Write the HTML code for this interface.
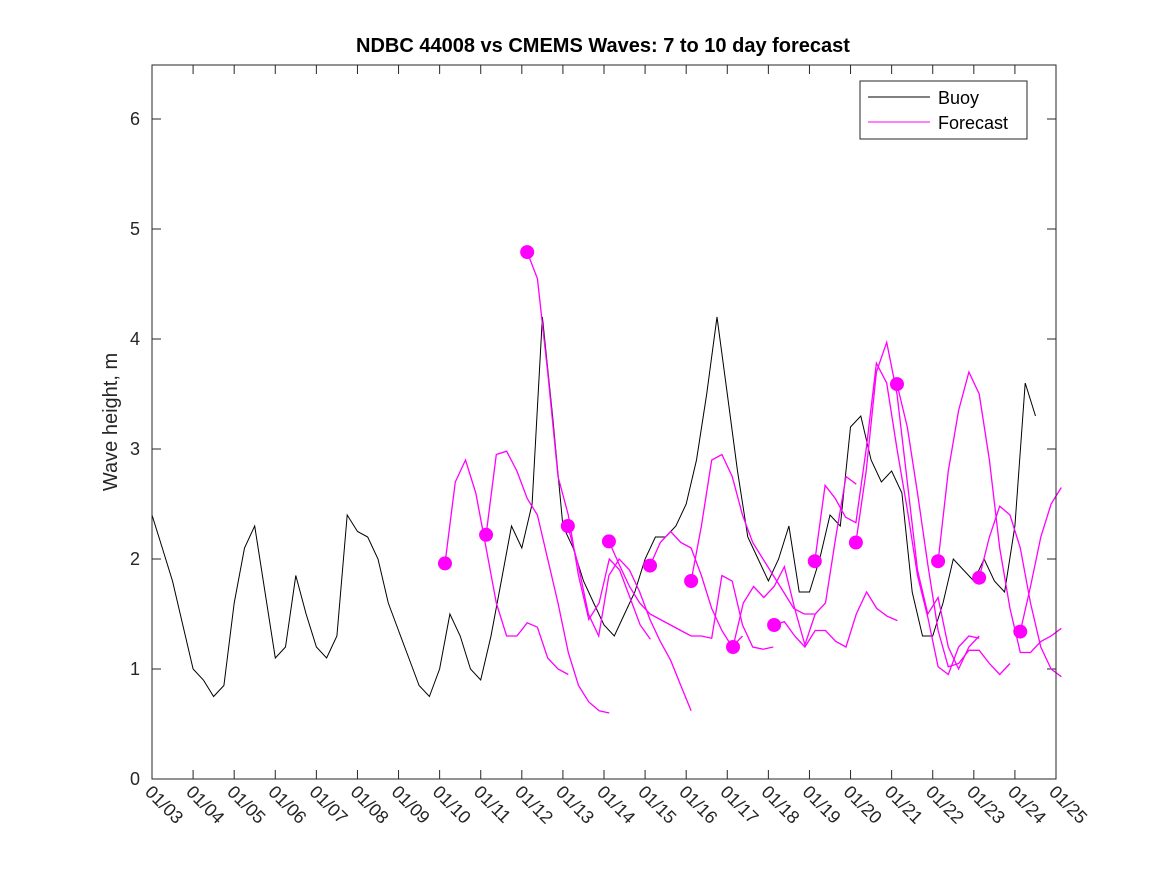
<!DOCTYPE html>
<html><head><meta charset="utf-8"><style>
body{margin:0;background:#fff;}
svg{display:block;font-family:"Liberation Sans","DejaVu Sans",sans-serif;}
</style></head><body>
<svg id="chart" width="1167" height="875" viewBox="0 0 1167 875">
<rect x="0" y="0" width="1167" height="875" fill="#fff"/>
<text x="603" y="52" text-anchor="middle" font-size="20" font-weight="bold" fill="#000">NDBC 44008 vs CMEMS Waves: 7 to 10 day forecast</text>
<text transform="translate(117,422) rotate(-90)" text-anchor="middle" font-size="20" fill="#262626">Wave height, m</text>
<g id="grid"></g>
<g id="series"></g>
<rect x="152" y="65" width="904" height="714" fill="none" stroke="#262626" stroke-width="1"/>
<g>
<rect x="860" y="81" width="167" height="58" fill="#fff" stroke="#262626" stroke-width="1"/>
<line x1="868" y1="97" x2="930" y2="97" stroke="#000" stroke-width="1"/>
<text x="938" y="104" font-size="18" fill="#000">Buoy</text>
<line x1="868" y1="122" x2="930" y2="122" stroke="#ff00ff" stroke-width="1"/>
<text x="938" y="129" font-size="18" fill="#000">Forecast</text>
</g>
</svg>
<script>
const xTickLabels = ["01/03","01/04","01/05","01/06","01/07","01/08","01/09","01/10","01/11","01/12","01/13","01/14","01/15","01/16","01/17","01/18","01/19","01/20","01/21","01/22","01/23","01/24","01/25"];
const yTicks = [0,1,2,3,4,5,6];
// buoy values at 0.25-day steps from 01/03 00:00
const buoyValues = [2.4,2.1,1.8,1.4,1.0,0.9,0.75,0.85,1.6,2.1,2.3,1.7,1.1,1.2,1.85,1.5,1.2,1.1,1.3,2.4,2.25,2.2,2.0,1.6,1.35,1.1,0.85,0.75,1.0,1.5,1.3,1.0,0.9,1.3,1.8,2.3,2.1,2.5,4.2,3.3,2.3,2.1,1.8,1.6,1.4,1.3,1.5,1.7,2.0,2.2,2.2,2.3,2.5,2.9,3.5,4.2,3.5,2.8,2.2,2.0,1.8,2.0,2.3,1.7,1.7,2.0,2.4,2.3,3.2,3.3,2.9,2.7,2.8,2.6,1.7,1.3,1.3,1.6,2.0,1.9,1.8,2.0,1.8,1.7,2.3,3.6,3.3];
const buoyStep = 0.25;
// forecast start days (days since 01/03) and values at 0.25-day steps
const forecastStarts = [7.13,8.13,9.13,10.12,11.12,12.12,13.12,14.14,15.14,16.13,17.13,18.13,19.13,20.13,21.13];
const fc0 = [1.96,2.7,2.9,2.6,2.1,1.6,1.3,1.3,1.42,1.38,1.1,1.0,0.95];
const fc1 = [2.22,2.95,2.98,2.8,2.55,2.4,2.0,1.6,1.15,0.85,0.7,0.62,0.6];
const fc2 = [4.79,4.55,3.7,2.75,2.4,1.85,1.45,1.6,2.0,1.9,1.65,1.4,1.27];
const fc3 = [2.3,1.95,1.5,1.3,1.85,2.0,1.9,1.7,1.45,1.25,1.08,0.85,0.62];
const fc4 = [2.16,1.95,1.75,1.6,1.5,1.45,1.4,1.35,1.3,1.3,1.28,1.85,1.8,1.4,1.2,1.18,1.2];
const fc5 = [1.94,2.15,2.25,2.15,2.1,1.85,1.55,1.35,1.2,1.3];
const fc6 = [1.8,2.3,2.9,2.95,2.75,2.4,2.15,2.0,1.85,1.7,1.55,1.5,1.5];
const fc7 = [1.2,1.6,1.75,1.65,1.75,1.93,1.55,1.22,1.5,1.6,2.2,2.75,2.68];
const fc8 = [1.4,1.43,1.3,1.2,1.35,1.35,1.25,1.2,1.5,1.7,1.55,1.48,1.44];
const fc9 = [1.98,2.67,2.55,2.38,2.33,3.0,3.78,3.6,3.0,2.45,1.85,1.47,1.02,0.95,1.2,1.3,1.28];
const fc10 = [2.15,2.8,3.7,3.97,3.5,2.7,1.9,1.5,1.65,1.2,1.0,1.2,1.3];
const fc11 = [3.59,3.2,2.6,1.95,1.35,1.02,1.05,1.17,1.17,1.05,0.95,1.05];
const fc12 = [1.98,2.8,3.35,3.7,3.5,2.9,2.1,1.55,1.15,1.15,1.25,1.3,1.37];
const fc13 = [1.83,2.2,2.48,2.4,2.1,1.6,1.2,1.0,0.93];
const fc14 = [1.34,1.75,2.2,2.5,2.65];
const forecasts = [fc0,fc1,fc2,fc3,fc4,fc5,fc6,fc7,fc8,fc9,fc10,fc11,fc12,fc13,fc14];
const fcStep = 0.25;

const NS = "http://www.w3.org/2000/svg";
const X0=152, X1=1056, Y0=779, YT=65;
const xScale = d => X0 + d*(X1-X0)/22;
const yScale = v => Y0 - v*110;
const grid = document.getElementById('grid');
const series = document.getElementById('series');
function mk(tag, attrs, parent){const e=document.createElementNS(NS,tag);for(const k in attrs)e.setAttribute(k,attrs[k]);parent.appendChild(e);return e;}

yTicks.forEach(v=>{
  const y=yScale(v);
  const t1=mk('line',{x1:X0,y1:y,x2:X0+9,y2:y,stroke:'#262626'},grid);
  
  
  const t2=mk('line',{x1:X1-9,y1:y,x2:X1,y2:y,stroke:'#262626'},grid);
  
  
  const tx=mk('text',{x:X0-12,y:y+6,'text-anchor':'end','font-size':18,fill:'#262626'},grid);
  tx.textContent=String(v);
  
  
});
xTickLabels.forEach((lab,i)=>{
  const x=xScale(i);
  const t1=mk('line',{x1:x,y1:Y0,x2:x,y2:Y0-9,stroke:'#262626'},grid);
  
  
  const t2=mk('line',{x1:x,y1:YT,x2:x,y2:YT+9,stroke:'#262626'},grid);
  
  
  const tx=mk('text',{transform:`translate(${x-8},${Y0+14}) rotate(45)`,'font-size':18,fill:'#262626'},grid);
  tx.textContent=lab;
  
  
});

const bp = buoyValues.map((v,i)=>xScale(i*buoyStep).toFixed(1)+','+yScale(v).toFixed(1)).join(' ');
const buoy = mk('polyline',{points:bp,fill:'none',stroke:'#000','stroke-width':1},series);



forecasts.forEach((vals,k)=>{
  const s=forecastStarts[k];
  const pts=vals.map((v,i)=>xScale(s+i*fcStep).toFixed(1)+','+yScale(v).toFixed(1)).join(' ');
  const pl=mk('polyline',{points:pts,fill:'none',stroke:'#ff00ff','stroke-width':1.3},series);
  
  
});
forecasts.forEach((vals,k)=>{
  const c=mk('circle',{cx:xScale(forecastStarts[k]),cy:yScale(vals[0]),r:7,fill:'#ff00ff'},series);
  
  
});
</script>
</body></html>
